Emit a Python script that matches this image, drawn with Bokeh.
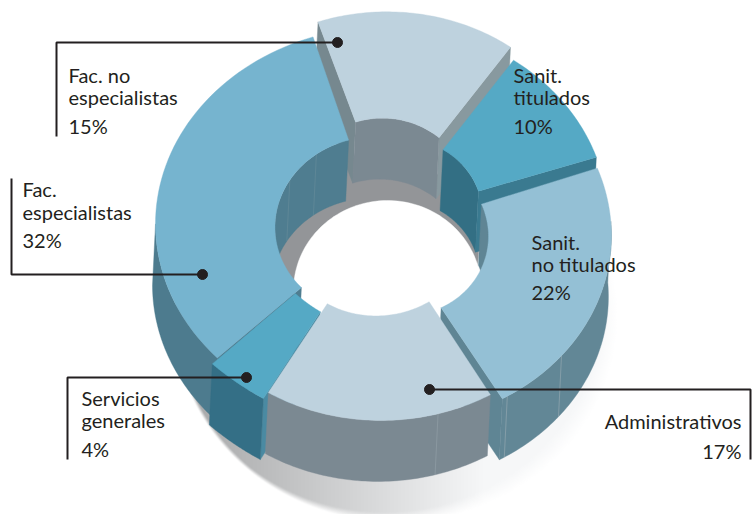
import numpy as np
from bokeh.plotting import figure
from bokeh.models import Range1d
from bokeh.core.properties import value
from bokeh.embed import file_html
from bokeh.resources import INLINE

categories = ["Fac. no especialistas", "Sanit. titulados", "Sanit. no titulados",
              "Administrativos", "Servicios generales", "Fac. especialistas"]
shares = [15, 10, 22, 17, 4, 32]
label_lines = [["Fac. no", "especialistas", "15%"], ["Sanit.", "titulados", "10%"],
               ["Sanit.", "no titulados", "22%"], ["Administrativos", "17%"],
               ["Servicios", "generales", "4%"], ["Fac.", "especialistas", "32%"]]

# ---- layout and style (all in page pixels of the reference) ----
START = -18.0
OUT = (382, 228, 228, 192)
INN = (375, 220, 103, 95)
DEPTH = (-3, 61)
FONT = "Lato"
INK = "#231f20"
# per-slice explode offsets: outer start, outer end, inner start, inner end
OFFS = [((6, -24), (-6, -26), (12, -8), (3, -6)),
        ((-3, -13), (-3, -12), (7, 6), (5, 0)),
        ((-2, -1), (10, 2), (8, 13), (16, 4)),
        ((-2, -2), (8, 2), (4, -2), (7, 3)),
        ((3, 8), (-4, 4), (0, 11), (-5, 8)),
        ((1, -2), (1, -9), (1, 2), (5, 10))]
TOP = ["#bed2de", "#55a9c5", "#94c0d5", "#bed2de", "#55a9c5", "#76b4cf"]

p = figure(width=753, height=514, output_backend="svg", toolbar_location=None,
           x_range=Range1d(0, 753), y_range=Range1d(514, 0), min_border=0,
           background_fill_color="white", border_fill_color="white", outline_line_color=None)
p.axis.visible = False
p.grid.visible = False

# angles from the values
edges = START + np.concatenate([[0], np.cumsum(shares)]) * 3.6

def arc(i, ring, a1, a2, n=60, drop=False):
    a0, b0 = edges[i], edges[i + 1]
    th = np.linspace(a1, a2, n)
    f = (th - a0) / (b0 - a0)
    cx, cy, rx, ry = OUT if ring == "o" else INN
    s, e = OFFS[i][:2] if ring == "o" else OFFS[i][2:]
    x = cx + rx * np.sin(np.radians(th)) + s[0] + (e[0] - s[0]) * f
    y = cy - ry * np.cos(np.radians(th)) + s[1] + (e[1] - s[1]) * f
    if drop:
        x, y = x + DEPTH[0], y + DEPTH[1]
    return x, y

def fill(xs, ys, color, alpha=1.0):
    p.patch(list(xs), list(ys), fill_color=color, line_color=color, line_width=0.4, fill_alpha=alpha)

def top(i):
    x1, y1 = arc(i, "o", edges[i], edges[i + 1])
    x2, y2 = arc(i, "i", edges[i], edges[i + 1])
    fill(np.r_[x1, x2[::-1]], np.r_[y1, y2[::-1]], TOP[i])

def wall(i, ring, a1, a2, color):
    x1, y1 = arc(i, ring, a1, a2)
    x2, y2 = arc(i, ring, a1, a2, drop=True)
    fill(np.r_[x1, x2[::-1]], np.r_[y1, y2[::-1]], color)

def cut(i, which, color):
    a = edges[i] if which == "start" else edges[i + 1]
    xo, yo = arc(i, "o", a, a, 1)
    xi, yi = arc(i, "i", a, a, 1)
    xs = [xi[0], xo[0], xo[0] + DEPTH[0], xi[0] + DEPTH[0]]
    ys = [yi[0], yo[0], yo[0] + DEPTH[1], yi[0] + DEPTH[1]]
    fill(xs, ys, color)

def seam(i, ring, a, alpha=0.6):
    x, y = arc(i, ring, a, a, 1)
    x2, y2 = arc(i, ring, a, a, 1, drop=True)
    p.line([x[0], x2[0]], [y[0], y2[0]], line_color="#a9b6bc", line_width=0.8, line_alpha=alpha)

# ground shadow
sx, sy = np.meshgrid(np.arange(170, 630), np.arange(200, 514))
d = np.sqrt(((sx - 395) / 222.0) ** 2 + ((sy - 315) / 206.0) ** 2)
soft = 0.015 + 0.07 * np.clip((sx - 250) / 300.0, 0, 1)
alpha = np.clip((1.0 - d) / soft, 0, 1)
grey = np.clip(170 + (sx - 200) * 0.27, 170, 246)
img = np.zeros(sx.shape + (4,), dtype=np.uint8)
img[..., 0] = grey
img[..., 1] = grey + 1
img[..., 2] = grey + 2
img[..., 3] = alpha * 255
rgba = img.view(dtype=np.uint32).reshape(sx.shape)
p.image_rgba(image=[rgba], x=170, y=200, dw=460, dh=314)

# floor seen through the hole, then the hole itself
t = np.linspace(0, 2 * np.pi, 160)
fill(375 + 103 * np.cos(t), 250 + 95 * np.sin(t), "#939598")
fill(387 + 94 * np.cos(t), 290 + 90 * np.sin(t), "#ffffff")

# Fac. no especialistas (back)
cut(0, "start", "#76888f")
cut(0, "end", "#88999f")
wall(0, "i", edges[0], edges[1], "#7b8992")
top(0)

# Sanit. titulados
wall(1, "i", edges[1], edges[2], "#336f84")
cut(1, "end", "#3a7a90")
top(1)

# Sanit. no titulados
wall(2, "i", edges[2], 92, "#5f8594")
cut(2, "end", "#5f8594")
wall(2, "o", 88, edges[3], "#628796")
seam(2, "o", 131)
seam(2, "o", edges[3] - 1.5)
top(2)

# Fac. especialistas
cut(5, "start", "#4f7d90")
wall(5, "o", edges[5], 270, "#4d7b8e")
wall(5, "i", 262, edges[6], "#4f7d90")
seam(5, "i", 300, 0.2)
seam(5, "i", 322, 0.2)
top(5)

# Servicios generales
cut(4, "start", "#4a8aa2")
wall(4, "o", edges[4], edges[5], "#346f86")
top(4)

# Administrativos (front)
wall(3, "o", edges[3], edges[4], "#7b8992")
seam(3, "o", 166, 0.4)
top(3)

# leaders
leaders = [([56, 56, 337], [136, 42, 42]), ([11, 11, 202], [178, 274, 274]),
           ([67, 67, 246], [459, 377, 377]), ([750, 750, 429], [459, 389, 389])]
for lx, ly in leaders:
    p.line(lx, ly, line_color=INK, line_width=2)
    p.scatter([lx[-1]], [ly[-1]], size=10, color=INK)

# labels: index, x, align, y centres
placing = [(0, 68, "left", [74, 96, 125]), (1, 513, "left", [74, 96, 125]),
           (2, 531, "left", [241, 263, 291]), (3, 741, "right", [420, 450]),
           (4, 81, "left", [397, 419, 448]), (5, 22, "left", [188, 211, 239])]
for i, x, al, ys in placing:
    p.text([x] * len(ys), ys, text=label_lines[i], text_font=value(FONT), text_font_size="20px",
           text_color=INK, text_align=al, text_baseline="middle")

open("out.html", "w").write(file_html(p, INLINE))
